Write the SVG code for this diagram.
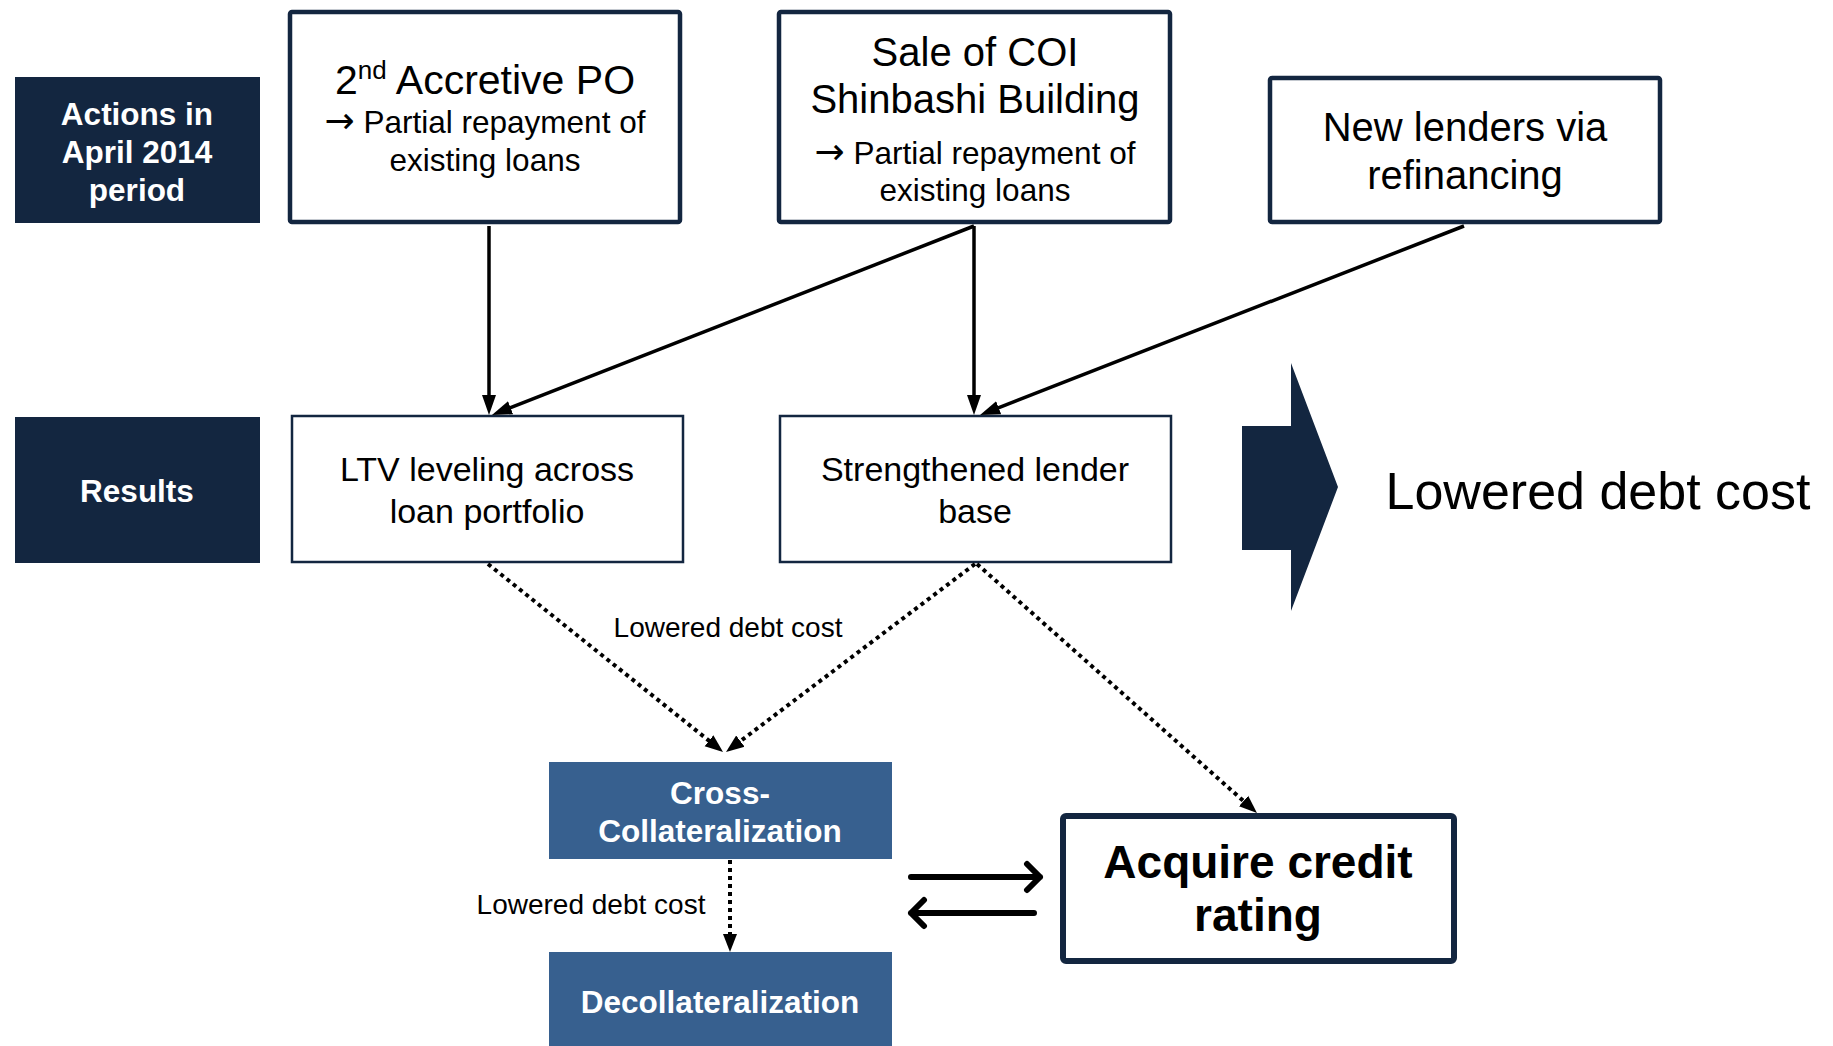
<svg xmlns="http://www.w3.org/2000/svg" width="1833" height="1046" viewBox="0 0 1833 1046">
  <defs>
    <style>
      .t { font-family: "Liberation Sans", Arial, sans-serif; fill: #000; text-anchor: middle; }
      .w { font-family: "Liberation Sans", Arial, sans-serif; fill: #fff; font-weight: bold; text-anchor: middle; font-size: 31.5px; }
      .arr { font-family: "DejaVu Sans", sans-serif; font-size: 36px; }
      .hdr { fill: #132640; }
      .blue { fill: #37608F; }
      .thick { fill: #fff; stroke: #132640; stroke-width: 4.5; }
      .thin { fill: #fff; stroke: #132640; stroke-width: 2.5; }
      .solid { fill: none; stroke: #000; stroke-width: 3.5; marker-end: url(#tri); }
      .dot { fill: none; stroke: #000; stroke-width: 4; stroke-dasharray: 4 4; marker-end: url(#triSmall); }
      .swap { fill: none; stroke: #000; stroke-width: 6; stroke-linecap: round; stroke-linejoin: round; }
    </style>
    <marker id="tri" markerUnits="userSpaceOnUse" markerWidth="22" markerHeight="16" refX="12" refY="8" orient="auto">
      <path d="M0,1 L20,8 L0,15 z" fill="#000"/>
    </marker>
    <marker id="triSmall" markerUnits="userSpaceOnUse" markerWidth="20" markerHeight="16" refX="10" refY="8" orient="auto">
      <path d="M0,1 L18,8 L0,15 z" fill="#000"/>
    </marker>
  </defs>

  <rect width="1833" height="1046" fill="#fff"/>

  <!-- row headers -->
  <g id="hdr-actions">
    <rect class="hdr" x="15" y="77" width="245" height="146"/>
    <text class="w" x="137" y="124.5">Actions in</text>
    <text class="w" x="137" y="162.5">April 2014</text>
    <text class="w" x="137" y="200.5">period</text>
  </g>
  <g id="hdr-results">
    <rect class="hdr" x="15" y="417" width="245" height="146"/>
    <text class="w" x="137" y="502">Results</text>
  </g>

  <!-- actions -->
  <g id="po">
    <rect class="thick" x="290" y="12" width="390" height="210" rx="2"/>
    <text class="t" x="485" y="94" font-size="41">2<tspan font-size="26" dy="-15">nd</tspan><tspan dy="15"> Accretive PO</tspan></text>
    <text class="t" x="485" y="133" font-size="31.5"><tspan class="arr">→</tspan> Partial repayment of</text>
    <text class="t" x="485" y="171" font-size="31.5">existing loans</text>
  </g>
  <g id="sale">
    <rect class="thick" x="779" y="12" width="391" height="210" rx="2"/>
    <text class="t" x="975" y="66" font-size="40">Sale of COI</text>
    <text class="t" x="975" y="113" font-size="40">Shinbashi Building</text>
    <text class="t" x="975" y="164" font-size="31.5"><tspan class="arr">→</tspan> Partial repayment of</text>
    <text class="t" x="975" y="201" font-size="31.5">existing loans</text>
  </g>
  <g id="refi">
    <rect class="thick" x="1270" y="78" width="390" height="144" rx="2"/>
    <text class="t" x="1465" y="141" font-size="40">New lenders via</text>
    <text class="t" x="1465" y="189" font-size="40">refinancing</text>
  </g>

  <!-- results -->
  <g id="ltv">
    <rect class="thin" x="292" y="416" width="391" height="146"/>
    <text class="t" x="487" y="481" font-size="34">LTV leveling across</text>
    <text class="t" x="487" y="523" font-size="34">loan portfolio</text>
  </g>
  <g id="lenders">
    <rect class="thin" x="780" y="416" width="391" height="146"/>
    <text class="t" x="975" y="481" font-size="34">Strengthened lender</text>
    <text class="t" x="975" y="523" font-size="34">base</text>
  </g>

  <!-- outcome -->
  <g id="outcome">
    <polygon class="hdr" points="1242,426 1291,426 1291,363 1338,487 1291,611 1291,550 1242,550"/>
    <text class="t" x="1598" y="509" font-size="52">Lowered debt cost</text>
  </g>

  <g id="cross">
    <rect class="blue" x="549" y="762" width="343" height="97"/>
    <text class="w" x="720" y="804">Cross-</text>
    <text class="w" x="720" y="842">Collateralization</text>
  </g>
  <g id="decoll">
    <rect class="blue" x="549" y="952" width="343" height="94"/>
    <text class="w" x="720" y="1013">Decollateralization</text>
  </g>
  <g id="rating">
    <rect x="1063" y="816" width="391" height="145" rx="3" fill="#fff" stroke="#132640" stroke-width="6"/>
    <text class="t" x="1258" y="878" font-size="46" font-weight="bold">Acquire credit</text>
    <text class="t" x="1258" y="931" font-size="46" font-weight="bold">rating</text>
  </g>

  <!-- connectors -->
  <g id="connectors">
    <path class="solid" d="M489,226 L489,407"/>
    <path class="solid" d="M974,226 L499.4,412.1"/>
    <path class="solid" d="M974,226 L974,407"/>
    <path class="solid" d="M1464,226 L987.5,412.1"/>

    <path class="dot" d="M488,564 L716.8,747"/>
    <path class="dot" d="M975,564 L732.4,747.2"/>
    <path class="dot" d="M977,564 L1251,807.7"/>
    <path class="dot" d="M730,860 L730,944"/>

    <path class="swap" d="M911,877 L1040,877 M1027,864 L1040,877 L1027,890"/>
    <path class="swap" d="M1034,913 L911,913 M924,900 L911,913 L924,926"/>

    <text class="t" x="728" y="637" font-size="28">Lowered debt cost</text>
    <text class="t" x="591" y="914" font-size="28">Lowered debt cost</text>
  </g>
</svg>
